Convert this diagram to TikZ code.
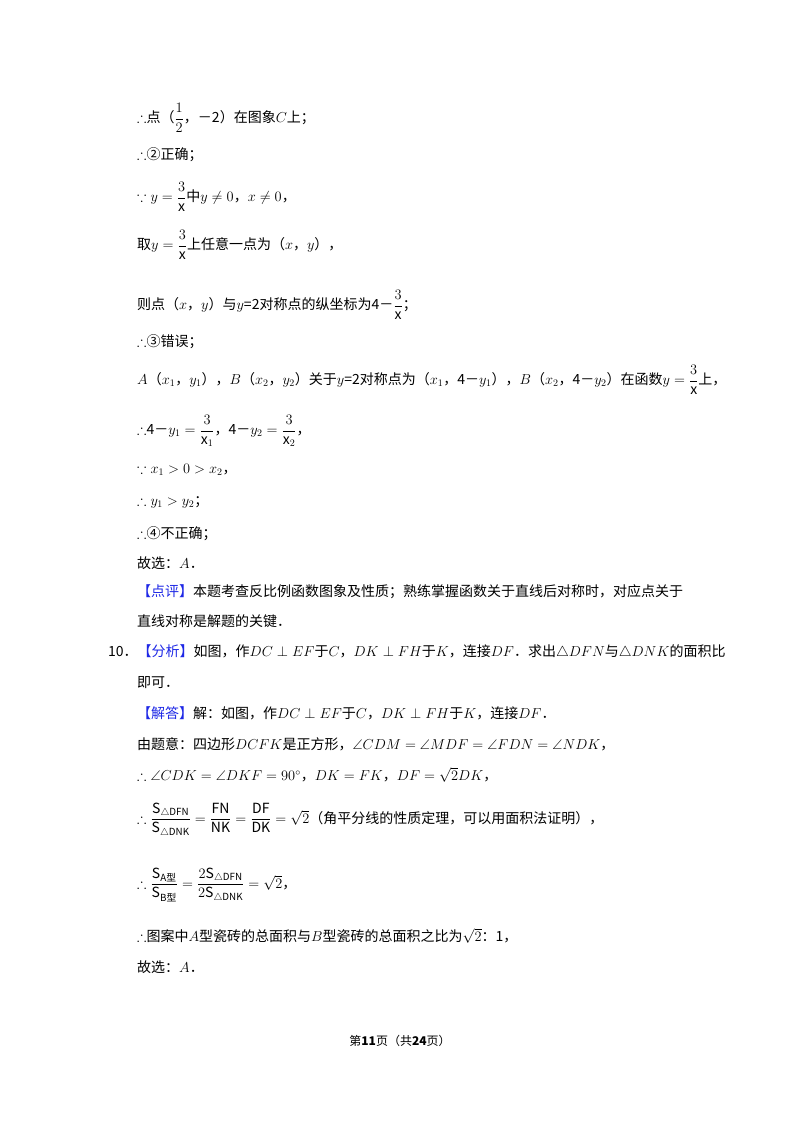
\documentclass[tikz,border=0pt]{standalone}
\usepackage{amsmath,amssymb}
\usepackage{fontspec}
\setmainfont{Noto Sans CJK SC}
\definecolor{lb}{RGB}{30,40,230}
\begin{document}
\begin{tikzpicture}[x=1pt,y=-1pt,every node/.style={anchor=west,inner sep=0pt,font=\fontsize{14}{17}\selectfont}]
\useasboundingbox (0,0) rectangle (800,1132);
\fill[white] (0,0) rectangle (800,1132);
\newcommand\tf{\therefore}
\node (l1) at (137,118) {$\tf$点（$\dfrac{1}{2}$，－2）在图象$C$上；};
\node (l2) at (137,155) {$\tf$②正确；};
\node (l3) at (137,197) {$\because y=\dfrac{3}{\mathrm{x}}$中$y\neq0$，$x\neq0$，};
\node (l4) at (137,245) {取$y=\dfrac{3}{\mathrm{x}}$上任意一点为（$x$，$y$），};
\node (l5) at (137,305) {则点（$x$，$y$）与$y$=2对称点的纵坐标为4－$\dfrac{3}{\mathrm{x}}$；};
\node (l6) at (137,342) {$\tf$③错误；};
\node (l7) at (137,380) {$A$（$x_1$，$y_1$），$B$（$x_2$，$y_2$）关于$y$=2对称点为（$x_1$，4－$y_1$），$B$（$x_2$，4－$y_2$）在函数$y=\dfrac{3}{\mathrm{x}}$上，};
\node (l8) at (137,431) {$\tf$4－$y_1=\dfrac{3}{\mathrm{x}_1}$，4－$y_2=\dfrac{3}{\mathrm{x}_2}$，};
\node (l9) at (137,470) {$\because x_1>0>x_2$，};
\node (l10) at (137,502) {$\tf y_1>y_2$；};
\node (l11) at (137,534) {$\tf$④不正确；};
\node (l12) at (137,563) {故选：$A$．};
\node (l13) at (137,592) {{\color{lb}【点评】}本题考查反比例函数图象及性质；熟练掌握函数关于直线后对称时，对应点关于};
\node (l14) at (137,621) {直线对称是解题的关键．};
\node (l15) at (108,652) {10．{\color{lb}【分析】}如图，作$DC\perp EF$于$C$，$DK\perp FH$于$K$，连接$DF$．求出$\triangle DFN$与$\triangle DNK$的面积比};
\node (l16) at (137,683) {即可．};
\node (l17) at (137,713) {{\color{lb}【解答】}解：如图，作$DC\perp EF$于$C$，$DK\perp FH$于$K$，连接$DF$．};
\node (l18) at (137,744) {由题意：四边形$DCFK$是正方形，$\angle CDM=\angle MDF=\angle FDN=\angle NDK$，};
\node (l19) at (137,775) {$\tf\angle CDK=\angle DKF=90^\circ$，$DK=FK$，$DF=\sqrt{2}DK$，};
\node (l20) at (137,820) {$\tf\dfrac{\mathrm{S}_{\triangle\mathrm{DFN}}}{\mathrm{S}_{\triangle\mathrm{DNK}}}=\dfrac{\mathrm{FN}}{\mathrm{NK}}=\dfrac{\mathrm{DF}}{\mathrm{DK}}=\sqrt{2}$（角平分线的性质定理，可以用面积法证明），};
\node (l21) at (137,885) {$\tf\dfrac{\mathrm{S}_{\mathrm{A}\text{型}}}{\mathrm{S}_{\mathrm{B}\text{型}}}=\dfrac{2\mathrm{S}_{\triangle\mathrm{DFN}}}{2\mathrm{S}_{\triangle\mathrm{DNK}}}=\sqrt{2}$，};
\node (l22) at (137,936) {$\tf$图案中$A$型瓷砖的总面积与$B$型瓷砖的总面积之比为$\sqrt{2}$：1，};
\node (l23) at (137,967) {故选：$A$．};
\node[anchor=center,font=\fontsize{12}{14}\selectfont] (ft) at (400,1041) {第\textbf{11}页（共\textbf{24}页）};
\end{tikzpicture}
\end{document}
